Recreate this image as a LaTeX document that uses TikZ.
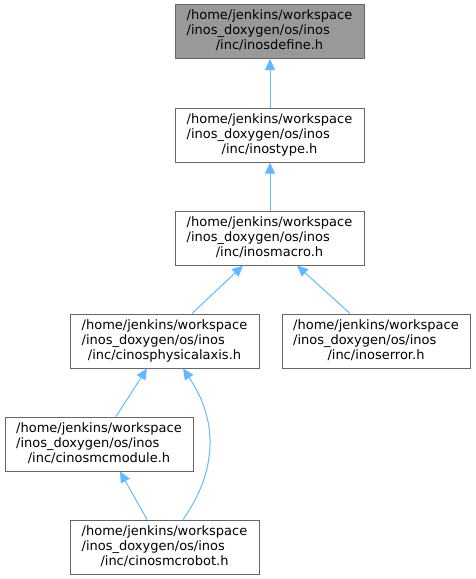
\documentclass[tikz,border=0pt]{standalone}
\usepackage{fontspec}
\setmainfont{DejaVu Sans}
\usetikzlibrary{arrows.meta}
\definecolor{edgeblue}{HTML}{63B8FF}
\definecolor{boxborder}{HTML}{666666}
\definecolor{rootfill}{HTML}{999999}
\newcommand{\ntext}[1]{\begin{tabular}{@{}l@{}}/home/jenkins/workspace\\/inos\_doxygen/os/inos\\\multicolumn{1}{@{}c@{}}{/inc/#1}\end{tabular}}
\tikzset{
  filebox/.style={draw=boxborder, fill=white, line width=1pt, minimum width=189pt, minimum height=54pt, inner sep=0pt, font=\fontsize{13}{15}\selectfont, text=black},
  rootbox/.style={filebox, fill=rootfill},
  edge/.style={draw=edgeblue, line width=1pt, -{Triangle[length=11pt,width=10pt]}}
}
\begin{document}
\begin{tikzpicture}[x=1pt,y=-1pt]
\useasboundingbox (0,0) rectangle (476,579);
\node[rootbox] (define) at (269.5,31.5) {\ntext{inosdefine.h}};
\node[filebox] (type) at (269.5,135) {\ntext{inostype.h}};
\node[filebox] (macro) at (269.5,238) {\ntext{inosmacro.h}};
\node[filebox] (phys) at (164.5,341) {\ntext{cinosphysicalaxis.h}};
\node[filebox, minimum width=188pt] (error) at (376,341) {\ntext{inoserror.h}};
\node[filebox, minimum width=188pt] (module) at (99,444) {\ntext{cinosmcmodule.h}};
\node[filebox] (robot) at (164.5,547) {\ntext{cinosmcrobot.h}};
\draw[edge] ([xshift=0.5pt]type.north) -- ([xshift=0.5pt]define.south);
\draw[edge] ([xshift=0.5pt]macro.north) -- ([xshift=0.5pt]type.south);
\draw[edge] ([xshift=27.5pt]phys.north) -- ([xshift=-26.5pt]macro.south);
\draw[edge] ([xshift=-26pt]error.north) -- ([xshift=27.5pt]macro.south);
\draw[edge] ([xshift=17pt]module.north) -- ([xshift=-17.5pt]phys.south);
\draw[edge] ([xshift=-17.5pt]robot.north) -- ([xshift=21pt]module.south);
\draw[edge] ([xshift=18.5pt]robot.north) .. controls (218,470) and (218,420) .. ([xshift=18.5pt]phys.south);
\end{tikzpicture}
\end{document}
